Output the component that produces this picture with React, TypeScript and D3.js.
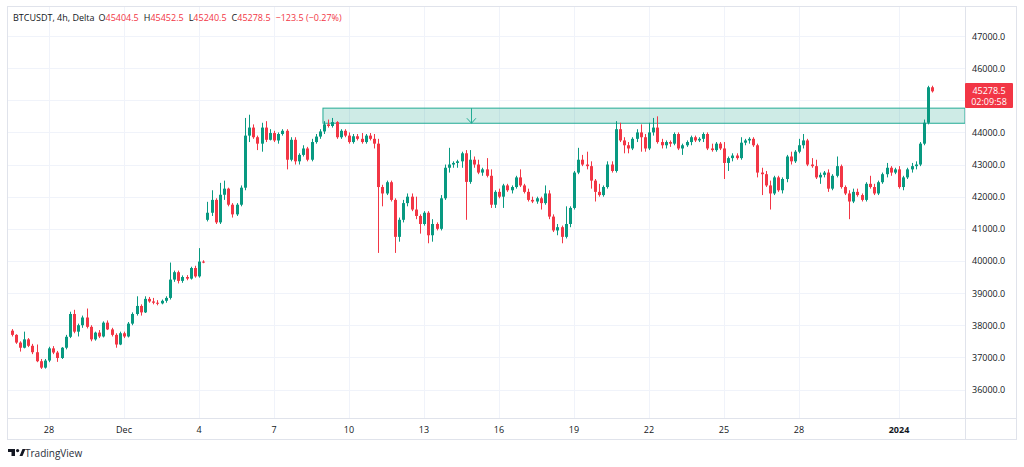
import * as d3 from "d3";

// 4h candles, Nov 26 12:00 UTC -> Jan 2 08:00 UTC
const startTime = Date.UTC(2023, 10, 26, 12);

const opens = [
  37830, 37700, 37460, 37300, 37560, 37360, 37160, 36880, 36680, 36900, 37280, 37150,
  36980, 37300, 37640, 38350, 37800, 38000, 38240, 37950, 37560, 37770, 37650, 38080,
  37870, 37700, 37400, 37750, 37650, 38050, 38350, 38600, 38400, 38820, 38740, 38700,
  38680, 38760, 38850, 39420, 39650, 39380, 39500, 39450, 39780, 39520, 39980, 41280,
  41500, 41900, 41200, 42060, 42250, 41750, 41450, 41750, 42280, 43900, 44150, 43850,
  43650, 44150, 43770, 43980, 43750, 43950, 44050, 43150, 43770, 43100, 43300, 43500,
  43150, 43700, 43870, 44030, 44250, 44200, 44320, 43850, 44050, 43900, 43700, 43880,
  43800, 43700, 43900, 43800, 43650, 42300, 42100, 42450, 41900, 40750, 41280, 41800,
  42000, 41600, 41400, 41150, 41500, 40800, 41150, 41000, 41950, 42900, 43000, 43050,
  43100, 43350, 42460, 43150, 43000, 42750, 42850, 42650, 41750, 42150, 42000, 42350,
  42200, 42300, 42600, 42350, 42150, 41900, 41850, 41950, 41800, 42100, 41380, 40950,
  41050, 40750, 41150, 41650, 42750, 43150, 43000, 42950, 42500, 42150, 42050, 42300,
  43000, 42800, 44100, 43750, 43600, 43500, 43800, 44000, 43850, 43500, 44000, 44150,
  43700, 43600, 43700, 43650, 43950, 43500, 43600, 43700, 43850, 43750, 43800, 43950,
  43500, 43450, 43650, 43500, 43050, 43200, 43280, 43200, 43680, 43750, 43800, 43600,
  42750, 42700, 42350, 42100, 42600, 42200, 42550, 43250, 43100, 43400, 43600, 43750,
  43000, 42950, 42600, 42680, 42750, 42250, 42650, 42950, 42300, 42100, 41850, 42150,
  42050, 41900, 42400, 42300, 42100, 42450, 42700, 42900, 42750, 42850, 42300, 42600,
  42850, 42950, 43000, 43650, 44300, 45404.5,
];

const highs = [
  37880, 37720, 37500, 37800, 37600, 37420, 37400, 36950, 36950, 37330, 37350, 37200,
  37320, 37700, 38420, 38480, 38050, 38300, 38520, 38000, 37800, 37850, 38120, 38150,
  37920, 37750, 37800, 37800, 38100, 38400, 38900, 38650, 38900, 38880, 38850, 38780,
  38800, 38900, 39950, 39700, 39700, 39550, 39560, 39820, 39850, 40400, 40020, 41840,
  42200, 41950, 42430, 42500, 42280, 41800, 41800, 42350, 44450, 44550, 44250, 43900,
  44300, 44350, 44100, 44050, 44000, 44100, 44100, 43850, 43850, 43350, 43600, 43550,
  43800, 43950, 44100, 44350, 44400, 44450, 44350, 44100, 44100, 44000, 43950, 43950,
  43980, 43950, 43980, 43950, 43800, 42370, 42500, 42500, 41950, 41350, 41900, 42100,
  42100, 42000, 41450, 41550, 41550, 41300, 41200, 42050, 43000, 43520, 43100, 43150,
  43400, 43450, 43450, 43250, 43150, 42900, 43200, 42850, 42200, 42250, 42400, 42400,
  42350, 42650, 42850, 42400, 42250, 42000, 42000, 42000, 42350, 42200, 41450, 41150,
  41100, 41700, 41700, 42800, 43520, 43300, 43400, 43100, 42550, 42400, 42350, 43100,
  43100, 44350, 44300, 43850, 43700, 43850, 44100, 44250, 43950, 44300, 44450, 44500,
  43800, 43750, 43750, 44000, 44000, 43650, 43750, 43900, 43900, 43850, 44000, 44000,
  43650, 43700, 43700, 43700, 43250, 43350, 43350, 43850, 43800, 43850, 43850, 43650,
  42900, 42800, 42500, 42650, 42650, 42600, 43300, 43400, 43450, 43800, 43950, 43800,
  43200, 43150, 42750, 42800, 42850, 42700, 43250, 43000, 42350, 42200, 42250, 42250,
  42100, 42450, 42650, 42400, 42500, 42750, 43050, 42950, 42900, 42950, 42650, 42900,
  43050, 43100, 43700, 44400, 45450, 45452.5,
];

const lows = [
  37650, 37420, 37180, 37280, 37320, 37100, 36850, 36640, 36650, 36850, 37100, 36860,
  36950, 37250, 37600, 37750, 37650, 37920, 37900, 37500, 37520, 37600, 37620, 37850,
  37650, 37300, 37380, 37600, 37620, 38000, 38300, 38300, 38380, 38700, 38650, 38620,
  38650, 38700, 38800, 39350, 39300, 39320, 39400, 39420, 39480, 39480, 39930, 41230,
  41400, 41150, 41150, 41900, 41700, 41350, 41400, 41700, 42200, 43700, 43800, 43450,
  43400, 43700, 43750, 43700, 43650, 43900, 42850, 43100, 43000, 43000, 43250, 43100,
  43100, 43650, 43800, 43950, 44150, 44150, 43800, 43800, 43850, 43650, 43650, 43750,
  43650, 43650, 43750, 43500, 40250, 41700, 42050, 41850, 40250, 40600, 41200, 41700,
  41550, 41300, 40850, 41100, 40550, 40600, 40950, 40950, 41900, 42750, 42900, 42900,
  42900, 41280, 42400, 42900, 42700, 42650, 42600, 41650, 41650, 41950, 41650, 42150,
  42100, 42250, 42300, 42100, 41850, 41800, 41780, 41600, 41750, 41300, 40900, 40800,
  40550, 40700, 41050, 41600, 42700, 42950, 42850, 42250, 41850, 42000, 42000, 42250,
  42750, 42750, 43700, 43350, 43350, 43450, 43700, 43400, 43400, 43450, 43900, 43650,
  43500, 43500, 43550, 43600, 43450, 43300, 43550, 43600, 43700, 43700, 43700, 43450,
  43400, 43400, 43450, 42550, 42800, 43100, 43150, 43150, 43600, 43650, 43550, 42600,
  42050, 42300, 41600, 42050, 42150, 42100, 42450, 43000, 43050, 43350, 43500, 42950,
  42900, 42550, 42400, 42600, 42150, 42200, 42600, 42250, 42050, 41300, 41800, 42000,
  41850, 41850, 42250, 42050, 42050, 42400, 42600, 42650, 42700, 42250, 42200, 42550,
  42750, 42850, 42950, 43600, 44250, 45240.5,
];

const closes = [
  37700, 37460, 37300, 37560, 37360, 37160, 36880, 36680, 36900, 37280, 37150, 36980,
  37300, 37640, 38350, 37800, 38000, 38240, 37950, 37560, 37770, 37650, 38080, 37870,
  37700, 37400, 37750, 37650, 38050, 38350, 38600, 38400, 38820, 38740, 38700, 38680,
  38760, 38850, 39420, 39650, 39380, 39500, 39450, 39780, 39520, 39980, 39960, 41500,
  41900, 41200, 42060, 42250, 41750, 41450, 41750, 42280, 43900, 44150, 43850, 43650,
  44150, 43770, 43980, 43750, 43950, 44050, 43150, 43770, 43100, 43300, 43500, 43150,
  43700, 43870, 44030, 44250, 44200, 44320, 43850, 44050, 43900, 43700, 43880, 43800,
  43700, 43900, 43800, 43650, 42300, 42100, 42450, 41900, 40750, 41280, 41800, 42000,
  41600, 41400, 41150, 41500, 40800, 41150, 41000, 41950, 42900, 43000, 43050, 43100,
  43350, 42460, 43150, 43000, 42750, 42850, 42650, 41750, 42150, 42000, 42350, 42200,
  42300, 42600, 42350, 42150, 41900, 41850, 41950, 41800, 42100, 41380, 40950, 41050,
  40750, 41150, 41650, 42750, 43150, 43000, 42950, 42500, 42150, 42050, 42300, 43000,
  42800, 44100, 43750, 43600, 43500, 43800, 44000, 43850, 43500, 44000, 44150, 43700,
  43600, 43700, 43650, 43950, 43500, 43600, 43700, 43850, 43750, 43800, 43950, 43500,
  43450, 43650, 43500, 43050, 43200, 43280, 43200, 43680, 43750, 43800, 43600, 42750,
  42700, 42350, 42100, 42600, 42200, 42550, 43250, 43100, 43400, 43600, 43750, 43000,
  42950, 42600, 42680, 42750, 42250, 42650, 42950, 42300, 42100, 41850, 42150, 42050,
  41900, 42400, 42300, 42100, 42450, 42700, 42900, 42750, 42850, 42300, 42600, 42850,
  42950, 43000, 43650, 44300, 45404.5, 45278.5,
];

// 45000 is hidden behind the last-price tag in the reference
const priceTicks = [36000, 37000, 38000, 39000, 40000, 41000, 42000, 43000, 44000, 45000, 46000, 47000];
const hiddenTicks = [45000];

const dateTicks = [
  Date.UTC(2023, 10, 28), Date.UTC(2023, 11, 1), Date.UTC(2023, 11, 4), Date.UTC(2023, 11, 7),
  Date.UTC(2023, 11, 10), Date.UTC(2023, 11, 13), Date.UTC(2023, 11, 16), Date.UTC(2023, 11, 19),
  Date.UTC(2023, 11, 22), Date.UTC(2023, 11, 25), Date.UTC(2023, 11, 28), Date.UTC(2024, 0, 1),
];
const dateLabels = ["28", "Dec", "4", "7", "10", "13", "16", "19", "22", "25", "28", "2024"];

// drawn resistance zone and arrow
const zoneStart = Date.UTC(2023, 11, 8, 23);
const zoneTop = 44755;
const zoneBottom = 44285;
const arrowTime = Date.UTC(2023, 11, 14, 21);

const header = [
  { k: "O", v: "45404.5" },
  { k: "H", v: "45452.5" },
  { k: "L", v: "45240.5" },
  { k: "C", v: "45278.5" },
];

const UP = "#089981";
const DOWN = "#f23645";
const FONT = "'Open Sans', 'Noto Sans', sans-serif";

export default function App() {
  const width = 1024;
  const height = 467;
  const plot = { left: 7, right: 965, top: 6, bottom: 418 };

  const x = d3
    .scaleUtc()
    .domain([Date.UTC(2023, 11, 1), Date.UTC(2024, 0, 1)])
    .range([124, 899]);
  const y = d3.scaleLinear().domain([36000, 47000]).range([389.5, 36]);

  const times = opens.map((_, i) => startTime + i * 4 * 3600 * 1000);

  return (
    <svg
      width={width}
      height={height}
      style={{ position: "absolute", left: 0, top: 0, background: "#fff" }}
      fontFamily={FONT}
    >
      <rect width={width} height={height} fill="#fff" />

      {/* grid */}
      <g stroke="#f0f3fa" strokeWidth={1}>
        {priceTicks.map((p) => (
          <line key={p} x1={plot.left} x2={plot.right} y1={Math.round(y(p)) + 0.5} y2={Math.round(y(p)) + 0.5} />
        ))}
        {dateTicks.map((d) => (
          <line key={d} x1={Math.round(x(d)) + 0.5} x2={Math.round(x(d)) + 0.5} y1={plot.top} y2={plot.bottom} />
        ))}
      </g>

      {/* zone */}
      <rect
        x={x(zoneStart)}
        y={y(zoneTop)}
        width={plot.right - x(zoneStart)}
        height={y(zoneBottom) - y(zoneTop)}
        fill="rgba(8,153,129,0.2)"
        stroke="#22ab94"
        strokeWidth={1}
      />
      <g stroke="#22ab94" strokeWidth={1} fill="none">
        <line x1={Math.round(x(arrowTime)) + 0.5} x2={Math.round(x(arrowTime)) + 0.5} y1={y(zoneTop)} y2={y(zoneBottom)} />
        <polyline
          points={`${x(arrowTime) - 4},${y(zoneBottom) - 5} ${Math.round(x(arrowTime)) + 0.5},${y(zoneBottom)} ${x(arrowTime) + 5},${y(zoneBottom) - 5}`}
        />
      </g>

      {/* candles */}
      <g>
        {times.map((t, i) => {
          const o = opens[i];
          const c = closes[i];
          const col = c >= o ? UP : DOWN;
          const cx = Math.round(x(t)) + 0.5;
          const top = y(Math.max(o, c));
          const bh = Math.max(1, y(Math.min(o, c)) - top);
          return (
            <g key={t}>
              <line x1={cx} x2={cx} y1={y(highs[i])} y2={y(lows[i])} stroke={col} strokeWidth={1} />
              <rect x={cx - 1.5} y={top} width={3} height={bh} fill={col} />
            </g>
          );
        })}
      </g>

      {/* frame and axes */}
      <rect x={7.5} y={6.5} width={1009} height={433} fill="none" stroke="#e0e3eb" />
      <line x1={plot.right + 0.5} x2={plot.right + 0.5} y1={6.5} y2={439.5} stroke="#e0e3eb" />
      <line x1={7.5} x2={1016.5} y1={plot.bottom + 0.5} y2={plot.bottom + 0.5} stroke="#e0e3eb" />

      <g fontSize={9} fill="#131722">
        {priceTicks
          .filter((p) => !hiddenTicks.includes(p))
          .map((p) => (
            <text key={p} x={972} y={y(p)} dominantBaseline="central">
              {p.toFixed(1)}
            </text>
          ))}
        {dateTicks.map((d, i) => (
          <text
            key={d}
            x={x(d)}
            y={429}
            textAnchor="middle"
            dominantBaseline="central"
            fontWeight={dateLabels[i] === "2024" ? 700 : 400}
          >
            {dateLabels[i]}
          </text>
        ))}
      </g>

      {/* last price tag */}
      <rect x={965} y={83} width={48} height={25} fill={DOWN} rx={1} />
      <text x={989} y={90.5} fill="#fff" fontSize={9} textAnchor="middle" dominantBaseline="central">
        {closes[closes.length - 1].toFixed(1)}
      </text>
      <text x={989} y={101.5} fill="#fff" fontSize={9} textAnchor="middle" dominantBaseline="central">
        02:09:58
      </text>

      {/* header */}
      <text x={13} y={17} fontSize={9} dominantBaseline="central" fill="#131722">
        <tspan>BTCUSDT, 4h, Delta</tspan>
        {header.map((h) => (
          <tspan key={h.k}>
            <tspan dx={h.k === "O" ? 4 : 5}>{h.k}</tspan>
            <tspan fill={DOWN}>{h.v}</tspan>
          </tspan>
        ))}
        <tspan fill={DOWN} dx={5}>−123.5 (−0.27%)</tspan>
      </text>

      {/* TradingView logo */}
      <g transform="translate(8,449)" fill="#131722">
        <path d="M0 0h7v7h-3.5v-4h-3.5z" />
        <circle cx={9.6} cy={1.6} r={1.6} />
        <path d="M11.5 7l3-7h3l-3 7z" />
      </g>
      <text x={25} y={453} fontSize={10} fill="#2a2e39" dominantBaseline="central">
        TradingView
      </text>
    </svg>
  );
}
